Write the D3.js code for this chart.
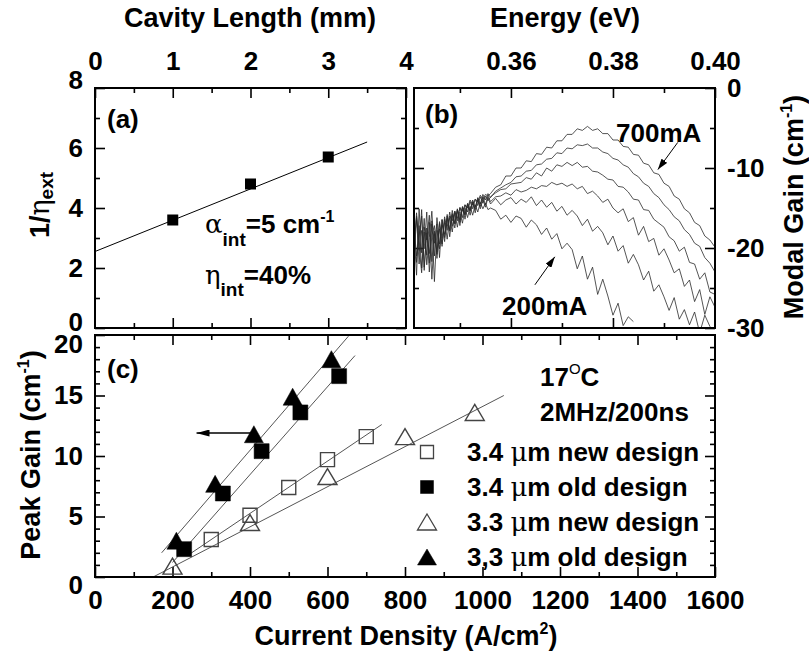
<!DOCTYPE html>
<meta charset="utf-8">
<style>
  body { margin: 0; background: #fff; }
  svg { display: block; }
  text { font-family: "Liberation Sans", Arial, sans-serif; font-weight: bold; fill: #000; }
  .axis text { font-size: 26px; }
  .axis line { stroke: #000; stroke-width: 1.6px; }
  .frame { fill: none; stroke: #000; stroke-width: 2px; }
  .title { font-size: 27px; }
  .note { font-size: 26px; }
  .greek { font-weight: normal; font-family: "DejaVu Serif", "Liberation Serif", serif; }
  .spec { fill: none; stroke: #2a2a2a; stroke-width: 0.8px; }
  .fit { fill: none; stroke: #555; stroke-width: 1px; }
</style>
<body>
<script src="https://d3js.org/d3.v7.min.js"></script>
<script>

// (a) inverse external efficiency vs cavity length
var cavityLength = [1, 2, 3];
var invEta = [3.6, 4.8, 5.7];
var fitA = [[0, 2.55], [3.5, 6.2]];

// (b) modal gain spectra, 200mA ... 700mA
var energy = [0.341, 0.3415, 0.342, 0.3425, 0.343, 0.3435, 0.344, 0.3445, 0.345, 0.3455,
  0.346, 0.3465, 0.347, 0.3475, 0.348, 0.3485, 0.349, 0.3495, 0.350, 0.3505,
  0.351, 0.3515, 0.352, 0.3525, 0.353, 0.3535, 0.354, 0.3545, 0.355, 0.3555, 0.356,
  0.357, 0.358, 0.359, 0.360, 0.361, 0.362, 0.363, 0.364, 0.365, 0.366,
  0.367, 0.368, 0.369, 0.370, 0.371, 0.372, 0.373, 0.374, 0.375, 0.376,
  0.377, 0.378, 0.379, 0.380, 0.381, 0.382, 0.383, 0.384, 0.385, 0.386,
  0.387, 0.388, 0.389, 0.390, 0.391, 0.392, 0.393, 0.394, 0.395, 0.396,
  0.397, 0.398, 0.399, 0.400];
var gain200 = [-16.5, -21.8, -17.2, -22.5, -18.0, -20.9, -16.8, -23.9, -18.2, -20.5,
  -16.9, -19.8, -16.4, -18.9, -16.2, -18.0, -15.6, -17.4, -15.5, -16.9,
  -15.0, -16.2, -14.8, -15.9, -14.6, -15.5, -14.3, -15.1, -14.4, -15.2, -15.0,
  -15.3, -16.4, -15.9, -16.8, -16.0, -16.3, -17.4, -16.5, -17.1, -18.3,
  -17.5, -18.9, -18.2, -20.1, -19.4, -20.2, -22.6, -21.0, -23.9, -22.4,
  -25.8, -23.9, -26.0, -28.4, -26.9, -29.7, -28.6, -29.2];
var gain300 = [-21.5, -16.0, -20.3, -15.2, -22.8, -17.5, -21.9, -17.0, -24.2, -17.8,
  -20.1, -16.5, -19.2, -15.8, -18.6, -15.9, -17.5, -15.3, -17.2, -14.8,
  -16.4, -14.6, -15.9, -14.3, -15.6, -14.0, -15.1, -13.9, -14.9, -13.7, -14.5,
  -13.8, -14.6, -14.0, -13.7, -14.5, -13.9, -14.3, -13.6, -14.7, -14.0,
  -14.9, -14.3, -15.4, -14.8, -15.9, -15.3, -16.0, -17.2, -16.4, -17.9,
  -17.3, -18.1, -19.6, -18.5, -20.4, -19.7, -21.9, -20.8, -22.1, -24.0,
  -22.9, -25.4, -24.6, -26.1, -27.8, -26.2, -28.9, -27.7, -29.6, -28.0,
  -30.6, -28.4, -29.8, -30.5];
var gain400 = [-18.0, -23.4, -15.1, -20.6, -16.3, -22.1, -18.7, -15.4, -21.0, -16.2,
  -19.5, -17.1, -18.3, -16.0, -17.9, -15.3, -17.0, -15.2, -16.5, -14.9,
  -15.8, -14.5, -15.4, -14.2, -15.2, -13.8, -14.8, -13.6, -14.6, -13.5, -14.2,
  -13.6, -13.5, -13.1, -13.4, -12.7, -13.0, -12.8, -12.4, -12.6, -12.2,
  -12.3, -11.8, -12.1, -11.9, -12.3, -12.0, -12.6, -12.3, -13.2, -12.9,
  -13.5, -14.3, -13.9, -15.0, -15.6, -15.1, -16.7, -16.2, -18.4, -17.3,
  -19.2, -18.8, -20.9, -20.1, -21.5, -23.1, -22.6, -24.8, -24.0, -26.7,
  -25.2, -28.3, -26.1, -27.4];
var gain500 = [-20.2, -15.6, -19.8, -23.1, -17.4, -19.0, -15.9, -21.7, -17.9, -20.8,
  -16.7, -18.8, -16.1, -17.8, -15.5, -17.3, -15.4, -16.6, -14.9, -16.2,
  -14.6, -15.5, -14.2, -15.1, -13.9, -14.7, -13.6, -14.4, -13.5, -14.1, -13.6,
  -13.1, -12.7, -12.6, -12.0, -11.9, -11.8, -11.2, -11.4, -10.6, -11.0,
  -10.0, -10.4, -9.6, -9.8, -9.3, -9.7, -9.3, -9.9, -9.8, -10.4,
  -10.5, -10.9, -11.4, -11.5, -12.3, -12.4, -13.0, -13.9, -14.0, -15.2,
  -15.3, -16.4, -16.9, -17.4, -18.6, -19.1, -20.4, -19.9, -21.8, -22.0,
  -23.9, -23.1, -25.5, -25.8];
var gain600 = [-17.2, -21.0, -18.5, -16.0, -22.4, -18.1, -20.7, -16.6, -19.4, -17.0,
  -21.2, -16.4, -18.7, -16.3, -17.7, -15.7, -16.9, -15.1, -16.8, -14.9,
  -15.9, -14.4, -15.3, -14.0, -14.9, -13.7, -14.5, -13.3, -14.0, -13.2, -13.7,
  -12.9, -12.5, -12.1, -11.8, -11.1, -11.0, -10.4, -10.3, -9.6, -9.5,
  -8.9, -8.8, -8.1, -8.2, -7.5, -7.6, -7.1, -7.2, -7.0, -7.5,
  -7.5, -8.0, -8.2, -8.8, -9.0, -9.6, -9.9, -10.7, -11.1, -11.9,
  -12.3, -13.2, -13.7, -14.6, -15.2, -16.1, -16.6, -17.7, -18.3, -19.4,
  -19.8, -21.2, -21.9, -23.0];
var gain700 = [-19.5, -16.2, -22.0, -17.8, -20.1, -15.5, -23.0, -18.4, -17.2, -21.3,
  -17.6, -19.5, -16.8, -17.3, -16.0, -16.6, -15.4, -16.3, -15.0, -15.4,
  -14.6, -15.0, -14.0, -14.6, -13.9, -14.2, -13.4, -13.9, -13.3, -13.5, -13.2,
  -12.4, -12.1, -11.0, -11.0, -10.0, -10.0, -9.1, -9.2, -8.2, -8.3,
  -7.4, -7.5, -6.6, -6.6, -5.8, -5.8, -5.1, -5.3, -4.8, -5.3,
  -5.1, -5.7, -5.7, -6.5, -6.5, -7.3, -7.4, -8.3, -8.4, -9.4,
  -9.6, -10.6, -10.8, -11.9, -12.3, -13.5, -13.9, -15.1, -15.6, -16.8,
  -17.2, -18.5, -19.0, -19.9];
var arrow700 = [[0.3927, -6.8], [0.3888, -10.2]];
var arrow200 = [[0.3647, -24.6], [0.3686, -21.1]];

// (c) peak gain vs current density
var jNew34 = [300, 400, 500, 600, 700];
var gNew34 = [3.1, 5.1, 7.4, 9.7, 11.6];
var jOld34 = [230, 330, 430, 530, 630];
var gOld34 = [2.3, 6.9, 10.4, 13.6, 16.6];
var jNew33 = [200, 400, 600, 800, 980];
var gNew33 = [0.9, 4.5, 8.3, 11.6, 13.6];
var jOld33 = [210, 310, 410, 510, 610];
var gOld33 = [3.0, 7.7, 11.8, 14.9, 18.0];
var fitNew34 = [[240, 1.8], [740, 12.6]];
var fitOld34 = [[200, 1.2], [671, 18.3]];
var fitNew33 = [[150, 0], [1055, 15.0]];
var fitOld33 = [[172, 2.0], [654, 19.9]];
var arrowC = [[405, 11.9], [262, 11.9]];
var legendNames = ["3.4 \u03bcm new design", "3.4 \u03bcm old design", "3.3 \u03bcm new design", "3,3 \u03bcm old design"];

var svg = d3.select("body").append("svg")
  .attr("width", 809)
  .attr("height", 658);

var defs = svg.append("defs");
defs.append("clipPath").attr("id", "clipB")
  .append("rect").attr("x", 414).attr("y", 88).attr("width", 301).attr("height", 240);
defs.append("marker").attr("id", "headS")
  .attr("viewBox", "0 0 11 7").attr("refX", 11).attr("refY", 3.5)
  .attr("markerWidth", 11).attr("markerHeight", 7)
  .attr("markerUnits", "userSpaceOnUse").attr("orient", "auto")
  .append("path").attr("d", "M0,0L11,3.5L0,7z").attr("fill", "#000");
defs.append("marker").attr("id", "headL")
  .attr("viewBox", "0 0 13 7").attr("refX", 13).attr("refY", 3.5)
  .attr("markerWidth", 13).attr("markerHeight", 7)
  .attr("markerUnits", "userSpaceOnUse").attr("orient", "auto")
  .append("path").attr("d", "M0,0L13,3.5L0,7z").attr("fill", "#000");

// scales
var xA = d3.scaleLinear().domain([0, 4]).range([95, 406]);
var yA = d3.scaleLinear().domain([0, 8]).range([328, 88]);
var xB = d3.scaleLinear().domain([0.341, 0.40]).range([414, 715]);
var yB = d3.scaleLinear().domain([-30, 0]).range([328, 88]);
var xC = d3.scaleLinear().domain([0, 1600]).range([95, 715]);
var yC = d3.scaleLinear().domain([0, 20]).range([577, 335]);

var blank = function () { return ""; };
var plain = function (d) { return String(d); };

// inward ticks, no domain line
function ticks(orient, scale, vals, len, tx, ty, fmt, pad) {
  var ax = orient(scale).tickValues(vals).tickSizeInner(-len).tickSizeOuter(0)
    .tickPadding(pad || 0).tickFormat(fmt || blank);
  var g = svg.append("g").attr("class", "axis")
    .attr("transform", "translate(" + tx + "," + ty + ")")
    .call(ax);
  g.select(".domain").remove();
  g.attr("font-size", null).attr("font-family", null);
  return g;
}

// ---- panel (a)
var aLeft = ticks(d3.axisLeft, yA, [0, 2, 4, 6, 8], 10, 95, 0, plain, 12);
aLeft.selectAll("text").attr("y", function (d) { return d == 8 ? -8 : (d == 0 ? -6 : 0); });
ticks(d3.axisLeft, yA, [1, 3, 5, 7], 5, 95, 0);
ticks(d3.axisRight, yA, [0, 2, 4, 6, 8], 10, 406, 0);
ticks(d3.axisRight, yA, [1, 3, 5, 7], 5, 406, 0);
ticks(d3.axisTop, xA, [0, 1, 2, 3, 4], 10, 0, 88, plain, 18);
ticks(d3.axisTop, xA, [0.5, 1.5, 2.5, 3.5], 5, 0, 88);
ticks(d3.axisBottom, xA, [1, 2, 3], 10, 0, 328);
ticks(d3.axisBottom, xA, [0.5, 1.5, 2.5, 3.5], 5, 0, 328);

svg.append("path")
  .datum(fitA)
  .attr("fill", "none").attr("stroke", "#000").attr("stroke-width", 1)
  .attr("d", d3.line().x(function (d) { return xA(d[0]); }).y(function (d) { return yA(d[1]); }));

svg.selectAll(".sqA")
  .data(cavityLength)
  .enter()
  .append("rect")
  .attr("x", function (d) { return xA(d) - 5.5; })
  .attr("y", function (d, i) { return yA(invEta[i]) - 5.5; })
  .attr("width", 11).attr("height", 11)
  .attr("fill", "#000");

svg.append("rect").attr("class", "frame").attr("x", 95).attr("y", 88).attr("width", 311).attr("height", 240);

svg.append("text").attr("class", "note").attr("x", 107).attr("y", 128).text("(a)");

var alpha = svg.append("text").attr("class", "note").attr("x", 205).attr("y", 233);
alpha.append("tspan").attr("class", "greek").text("\u03b1");
alpha.append("tspan").attr("font-size", 19).attr("dy", 13).text("int");
alpha.append("tspan").attr("dy", -13).text("=5 cm");
alpha.append("tspan").attr("font-size", 16).attr("dy", -11).text("-1");

var eta = svg.append("text").attr("class", "note").attr("x", 205).attr("y", 284);
eta.append("tspan").attr("class", "greek").text("\u03b7");
eta.append("tspan").attr("font-size", 19).attr("dy", 12).text("int");
eta.append("tspan").attr("dy", -12).text("=40%");

svg.append("text").attr("class", "title").attr("x", 250).attr("y", 27)
  .attr("text-anchor", "middle").text("Cavity Length (mm)");

var yTitleA = svg.append("text").attr("class", "title")
  .attr("transform", "translate(49,205) rotate(-90)").attr("text-anchor", "middle");
yTitleA.append("tspan").text("1/");
yTitleA.append("tspan").attr("class", "greek").text("\u03b7");
yTitleA.append("tspan").attr("font-size", 19).attr("dy", 4).text("ext");

// ---- panel (b)
ticks(d3.axisTop, xB, [0.36, 0.38, 0.40], 10, 0, 88, d3.format(".2f"), 18);
ticks(d3.axisTop, xB, [0.35, 0.37, 0.39], 5, 0, 88);
ticks(d3.axisBottom, xB, [0.36, 0.38], 10, 0, 328);
ticks(d3.axisBottom, xB, [0.35, 0.37, 0.39], 5, 0, 328);
ticks(d3.axisRight, yB, [0, -10, -20, -30], 10, 715, 0, plain, 12);
ticks(d3.axisRight, yB, [-5, -15, -25], 5, 715, 0);
ticks(d3.axisLeft, yB, [-10, -20], 10, 414, 0);
ticks(d3.axisLeft, yB, [-5, -15, -25], 5, 414, 0);

var spectra = [gain200, gain300, gain400, gain500, gain600, gain700];
var specLine = d3.line()
  .defined(function (d) { return d != null; })
  .x(function (d, i) { return xB(energy[i]); })
  .y(function (d) { return yB(d); });

svg.append("g")
  .attr("clip-path", "url(#clipB)")
  .selectAll("path")
  .data(spectra)
  .enter()
  .append("path")
  .attr("class", "spec")
  .attr("d", specLine);

var ptB = d3.line().x(function (d) { return xB(d[0]); }).y(function (d) { return yB(d[1]); });
svg.selectAll(".arrB")
  .data([arrow700, arrow200])
  .enter()
  .append("path")
  .attr("fill", "none").attr("stroke", "#000").attr("stroke-width", 1)
  .attr("marker-end", "url(#headS)")
  .attr("d", ptB);

svg.append("rect").attr("class", "frame").attr("x", 414).attr("y", 88).attr("width", 301).attr("height", 240);

svg.append("text").attr("class", "note").attr("x", 425).attr("y", 123).text("(b)");
svg.append("text").attr("class", "note").attr("x", 616).attr("y", 142).text("700mA");
svg.append("text").attr("class", "note").attr("x", 502).attr("y", 315).text("200mA");

svg.append("text").attr("class", "title").attr("x", 565).attr("y", 27)
  .attr("text-anchor", "middle").text("Energy (eV)");

var yTitleB = svg.append("text").attr("class", "title")
  .attr("transform", "translate(803,207) rotate(-90)").attr("text-anchor", "middle");
yTitleB.append("tspan").text("Modal Gain (cm");
yTitleB.append("tspan").attr("font-size", 16).attr("dy", -11).text("-1");
yTitleB.append("tspan").attr("dy", 11).text(")");

// ---- panel (c)
ticks(d3.axisBottom, xC, d3.range(0, 1601, 200), 10, 0, 577, plain, 14);
ticks(d3.axisBottom, xC, [100, 300, 500, 700, 900, 1100, 1300, 1500], 5, 0, 577);
ticks(d3.axisTop, xC, [200, 400, 600, 800, 1000, 1200, 1400], 10, 0, 335);
ticks(d3.axisTop, xC, [100, 300, 500, 700, 900, 1100, 1300, 1500], 5, 0, 335);
var cLeft = ticks(d3.axisLeft, yC, [0, 5, 10, 15, 20], 10, 95, 0, plain, 12);
cLeft.selectAll("text").attr("y", function (d) { return d == 20 ? 9 : (d == 0 ? 8 : 0); });
var minorC = [1, 2, 3, 4, 6, 7, 8, 9, 11, 12, 13, 14, 16, 17, 18, 19];
ticks(d3.axisLeft, yC, minorC, 5, 95, 0);
ticks(d3.axisRight, yC, [5, 10, 15], 10, 715, 0);
ticks(d3.axisRight, yC, minorC, 5, 715, 0);

var ptC = d3.line().x(function (d) { return xC(d[0]); }).y(function (d) { return yC(d[1]); });
svg.selectAll(".fitC")
  .data([fitNew34, fitOld34, fitNew33, fitOld33])
  .enter()
  .append("path")
  .attr("class", "fit")
  .attr("d", ptC);

function sq(s) { return "M" + (-s / 2) + "," + (-s / 2) + "h" + s + "v" + s + "h" + (-s) + "z"; }
function tri(w, h) { return "M0," + (-h / 2) + "L" + (w / 2) + "," + (h / 2) + "L" + (-w / 2) + "," + (h / 2) + "z"; }

var seriesC = [
  { j: jNew34, g: gNew34, shape: sq(14), legend: sq(13), filled: false },
  { j: jOld34, g: gOld34, shape: sq(15), legend: sq(13), filled: true },
  { j: jNew33, g: gNew33, shape: tri(19, 16), legend: tri(19, 16), filled: false },
  { j: jOld33, g: gOld33, shape: tri(19, 17), legend: tri(19, 16), filled: true }
];

seriesC.forEach(function (s) {
  svg.selectAll(null)
    .data(s.j)
    .enter()
    .append("path")
    .attr("transform", function (d, i) { return "translate(" + xC(d) + "," + yC(s.g[i]) + ")"; })
    .attr("d", s.shape)
    .attr("fill", s.filled ? "#000" : "none")
    .attr("stroke", s.filled ? "#000" : "#444")
    .attr("stroke-width", s.filled ? 0.5 : 1.4);
});

svg.append("path")
  .datum(arrowC)
  .attr("fill", "none").attr("stroke", "#000").attr("stroke-width", 1.5)
  .attr("marker-end", "url(#headL)")
  .attr("d", ptC);

// legend
var leg = svg.selectAll(".leg")
  .data(seriesC)
  .enter()
  .append("g")
  .attr("transform", function (d, i) { return "translate(427," + (452 + i * 35) + ")"; });
leg.append("path")
  .attr("d", function (d) { return d.legend; })
  .attr("fill", function (d) { return d.filled ? "#000" : "none"; })
  .attr("stroke", function (d) { return d.filled ? "#000" : "#444"; })
  .attr("stroke-width", function (d) { return d.filled ? 0.5 : 1.3; });
var legText = leg.append("text").attr("class", "note").attr("x", 40).attr("y", 9);
legText.append("tspan").text(function (d, i) { return legendNames[i].split("\u03bc")[0]; });
legText.append("tspan").attr("class", "greek").text("\u03bc");
legText.append("tspan").text(function (d, i) { return legendNames[i].split("\u03bc")[1]; });

svg.append("rect").attr("class", "frame").attr("x", 95).attr("y", 335).attr("width", 620).attr("height", 242);

svg.append("text").attr("class", "note").attr("x", 107).attr("y", 378).text("(c)");

var temp = svg.append("text").attr("class", "note").attr("x", 540).attr("y", 386);
temp.append("tspan").text("17");
temp.append("tspan").attr("font-size", 15).attr("font-weight", "normal").attr("dy", -12).text("O");
temp.append("tspan").attr("dy", 12).text("C");
svg.append("text").attr("class", "note").attr("x", 540).attr("y", 421).text("2MHz/200ns");

var xTitleC = svg.append("text").attr("class", "title").attr("x", 406).attr("y", 645)
  .attr("text-anchor", "middle");
xTitleC.append("tspan").text("Current Density (A/cm");
xTitleC.append("tspan").attr("font-size", 16).attr("dy", -11).text("2");
xTitleC.append("tspan").attr("dy", 11).text(")");

var yTitleC = svg.append("text").attr("class", "title")
  .attr("transform", "translate(40,455) rotate(-90)").attr("text-anchor", "middle");
yTitleC.append("tspan").text("Peak Gain (cm");
yTitleC.append("tspan").attr("font-size", 16).attr("dy", -11).text("-1");
yTitleC.append("tspan").attr("dy", 11).text(")");

</script>
</body>
